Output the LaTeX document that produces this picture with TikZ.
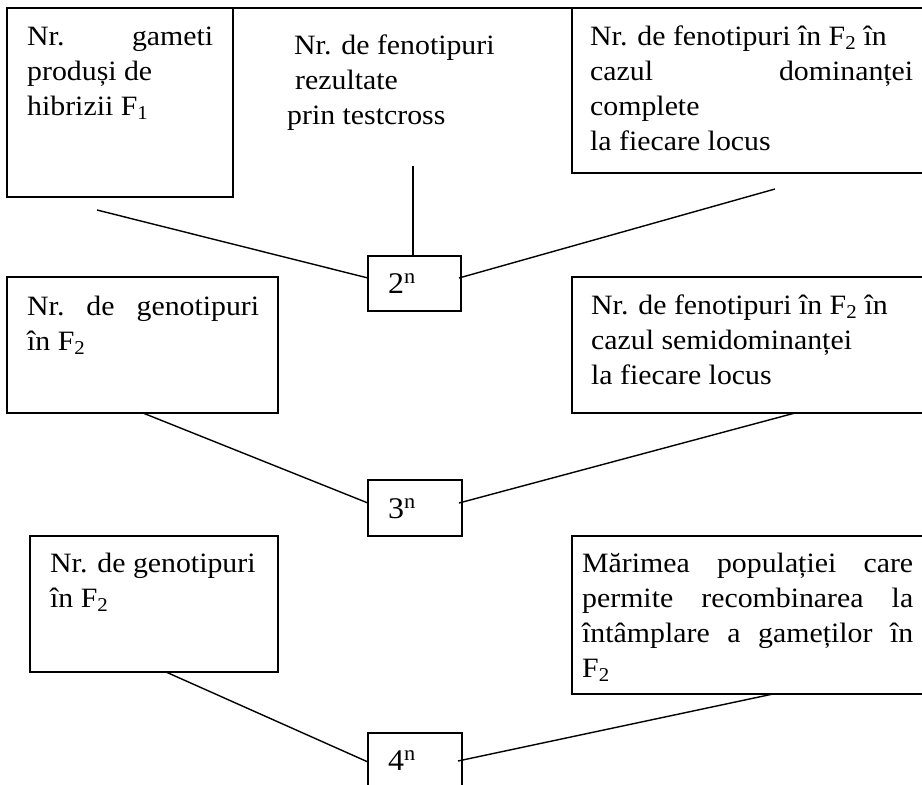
\documentclass[tikz,border=0pt]{standalone}
\usepackage{fontspec}
\setmainfont{Liberation Serif}[FakeStretch=1.065]
\usetikzlibrary{calc}
\begin{document}
\begin{tikzpicture}[x=1pt,y=-1pt,
  frame/.style={draw,line width=1.4pt,rectangle,inner sep=0pt,outer sep=0pt,anchor=north west},
  txt/.style={inner sep=0pt,anchor=base west,font=\fontsize{28}{35}\selectfont},
  power/.style={inner sep=0pt,anchor=base west,font=\fontsize{30}{35}\selectfont},
  link/.style={line width=1.4pt}]
\useasboundingbox (0,0) rectangle (922,785);
\clip (0,0) rectangle (922,785);

% boxes of the top row
\node[frame,minimum width=226pt,minimum height=189pt] (gam) at (7,8) {};
\node[frame,minimum width=400pt,minimum height=165pt] (fdom) at (572,8) {};
\draw[link] (gam.north east) -- (fdom.north west);

% boxes of the middle row
\node[frame,minimum width=271pt,minimum height=136pt] (gen) at (7,277) {};
\node[frame,minimum width=400pt,minimum height=136pt] (fsemi) at (572,277) {};

% boxes of the bottom row
\node[frame,minimum width=248pt,minimum height=136pt] (gen2) at (30,536) {};
\node[frame,minimum width=400pt,minimum height=158pt] (pop) at (572,536) {};

% the three powers
\node[frame,minimum width=93pt,minimum height=55pt] (two) at (368,256) {};
\node[frame,minimum width=94pt,minimum height=56pt] (three) at (368,480) {};
\node[frame,minimum width=94pt,minimum height=80pt] (four) at (368,733) {};
\node[power] (twot) at (388,293) {2\textsuperscript{n}};
\node[power] (threet) at (388,518) {3\textsuperscript{n}};
\node[power] (fourt) at (388,770) {4\textsuperscript{n}};

% texts
\node[txt] (gamt) at (27,45) {\vtop{\hbox to 186pt{Nr.\hfill gameti}\hbox{produși de}\hbox{hibrizii F\textsubscript{1}}}};
\node[txt] (testt) at (287,54) {\vtop{\hbox{\hspace*{7pt}Nr. de fenotipuri}\hbox{\hspace*{8pt}rezultate}\hbox{prin testcross}}};
\node[txt] (fdomt) at (590,45) {\vtop{\hbox{Nr. de fenotipuri în F\textsubscript{2} în}\hbox to 323pt{cazul\hfill dominanței}\hbox{complete}\hbox{la fiecare locus}}};
\node[txt] (gent) at (27,315) {\vtop{\hbox to 232pt{Nr.\hfill de\hfill genotipuri}\hbox{în F\textsubscript{2}}}};
\node[txt] (fsemit) at (591,314) {\vtop{\hbox{Nr. de fenotipuri în F\textsubscript{2} în}\hbox{cazul semidominanței}\hbox{la fiecare locus}}};
\node[txt] (gen2t) at (50,572) {\vtop{\hbox{Nr. de genotipuri}\hbox{în F\textsubscript{2}}}};
\node[txt] (popt) at (582,572) {\vtop{\hbox to 331pt{Mărimea\hfill populației\hfill care}\hbox to 331pt{permite\hfill recombinarea\hfill la}\hbox to 331pt{întâmplare\hfill a\hfill gameților\hfill în}\hbox{F\textsubscript{2}}}};

% free ends of the upper connectors
\coordinate (gamfoot) at (97,210);
\coordinate (testfoot) at (413,166);
\coordinate (fdomfoot) at (775,189);

% connectors
\draw[link] (gamfoot) -- ($(two.north west)+(0,22)$);
\draw[link] (testfoot) -- (testfoot |- two.north);
\draw[link] ($(two.north east)+(-2,22)$) -- (fdomfoot);
\draw[link] ($(gen.south west)+(136,0)$) -- ($(three.north west)+(0,23)$);
\draw[link] ($(three.north east)+(-3,23)$) -- ($(fsemi.south west)+(223,0)$);
\draw[link] ($(gen2.south west)+(136,0)$) -- ($(four.north west)+(0,29)$);
\draw[link] ($(four.north east)+(-4,28)$) -- ($(pop.south west)+(201,0)$);
\end{tikzpicture}
\end{document}
